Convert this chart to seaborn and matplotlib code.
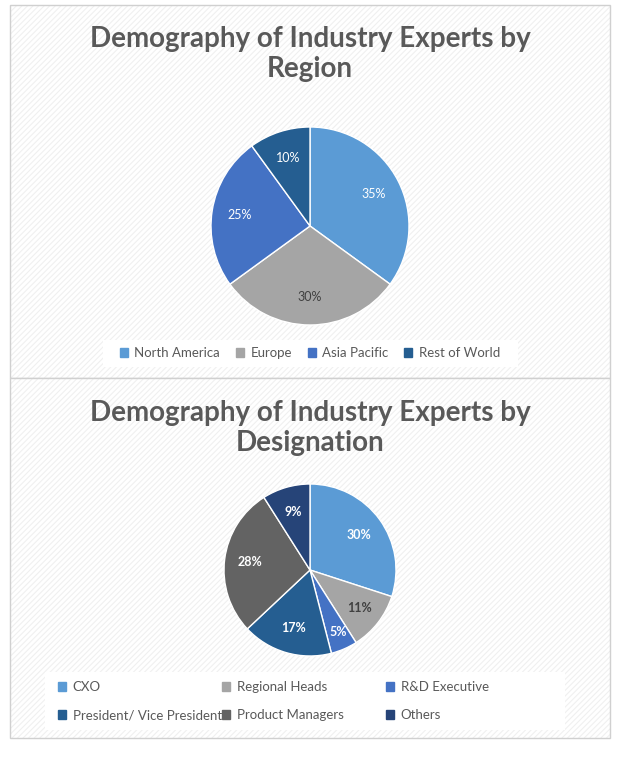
import matplotlib
matplotlib.use("Agg")
import matplotlib.pyplot as plt
from matplotlib.patches import Rectangle
import seaborn as sns

region_labels = ["North America", "Europe", "Asia Pacific", "Rest of World"]
region_values = [35, 30, 25, 10]
region_colors = ["#5B9BD5", "#A5A5A5", "#4472C4", "#255E91"]

desig_labels = ["CXO", "Regional Heads", "R&D Executive",
                "President/ Vice President", "Product Managers", "Others"]
desig_values = [30, 11, 5, 17, 28, 9]
desig_colors = ["#5B9BD5", "#A5A5A5", "#4472C4", "#255E91", "#636363", "#264478"]

sns.set_theme(style="white", font="Lato")
plt.rcParams["hatch.color"] = "#f0f0f0"
plt.rcParams["hatch.linewidth"] = 0.8
W, H = 624, 762
fig = plt.figure(figsize=(W / 100, H / 100), dpi=100)
fig.patch.set_facecolor("white")


def px(x0, y0, w, h):
    return [x0 / W, 1 - (y0 + h) / H, w / W, h / H]


# panel backgrounds
bg = fig.add_axes([0, 0, 1, 1])
bg.set_xlim(0, W)
bg.set_ylim(H, 0)
bg.axis("off")
for y0, h in [(5, 373), (378, 360)]:
    bg.add_patch(Rectangle((10, y0), 600, h, facecolor="white", edgecolor="#f0f0f0",
                           hatch="//////", lw=0))
    bg.add_patch(Rectangle((10, y0), 600, h, facecolor="none", edgecolor="#d0d0d0", lw=1))

bg.text(310, 54, "Demography of Industry Experts by\nRegion", ha="center", va="center",
        fontsize=20, fontweight="bold", color="#595959", linespacing=1.2)
bg.text(310, 428, "Demography of Industry Experts by\nDesignation", ha="center", va="center",
        fontsize=20, fontweight="bold", color="#595959", linespacing=1.2)


def draw_pie(ax, values, colors, label_r, txt_colors):
    ax.pie(values, colors=colors, startangle=90, counterclock=False,
           labels=[f"{v}%" for v in values], labeldistance=label_r,
           wedgeprops=dict(edgecolor="white", linewidth=1))
    for t, c in zip(ax.texts, txt_colors):
        t.set_color(c)
        t.set_fontsize(9)
        t.set_ha("center")
        t.set_va("center")
    ax.set_xlim(-1, 1)
    ax.set_ylim(-1, 1)
    ax.set_aspect("equal")


ax1 = fig.add_axes(px(211, 127, 198, 198))
draw_pie(ax1, region_values, region_colors, 0.72, ["white", "#404040", "white", "white"])

ax2 = fig.add_axes(px(224, 484, 172, 172))
draw_pie(ax2, desig_values, desig_colors, 0.7,
         ["white", "#404040", "white", "white", "white", "white"])
for t in ax2.texts:
    t.set_fontweight("bold")
ax2.texts[1].set_position((0.58, -0.44))
ax2.texts[2].set_position((0.33, -0.72))

# legends
bg.add_patch(Rectangle((103, 340), 415, 27, facecolor="white", edgecolor="none"))
h1 = [Rectangle((0, 0), 1, 1, color=c) for c in region_colors]
fig.legend(h1, region_labels, loc="center", bbox_to_anchor=(310 / W, 1 - 353 / H),
           ncol=4, frameon=False, fontsize=9.5, handlelength=0.6, handleheight=0.6,
           columnspacing=1.2, handletextpad=0.5, labelcolor="#595959")

bg.add_patch(Rectangle((45, 672), 520, 58, facecolor="white", edgecolor="none"))
h2 = [Rectangle((0, 0), 1, 1, color=c) for c in desig_colors]
xs = [58, 222, 386]
for i, (h, lab) in enumerate(zip(h2, desig_labels)):
    col, row = i % 3, i // 3
    fig.legend([h], [lab], loc="center left",
               bbox_to_anchor=(xs[col] / W, 1 - (687 + row * 28) / H),
               frameon=False, fontsize=9.5, handlelength=0.6, handleheight=0.6,
               handletextpad=0.5, borderaxespad=0, borderpad=0, labelcolor="#595959")

fig.savefig("out.png", dpi=100)
